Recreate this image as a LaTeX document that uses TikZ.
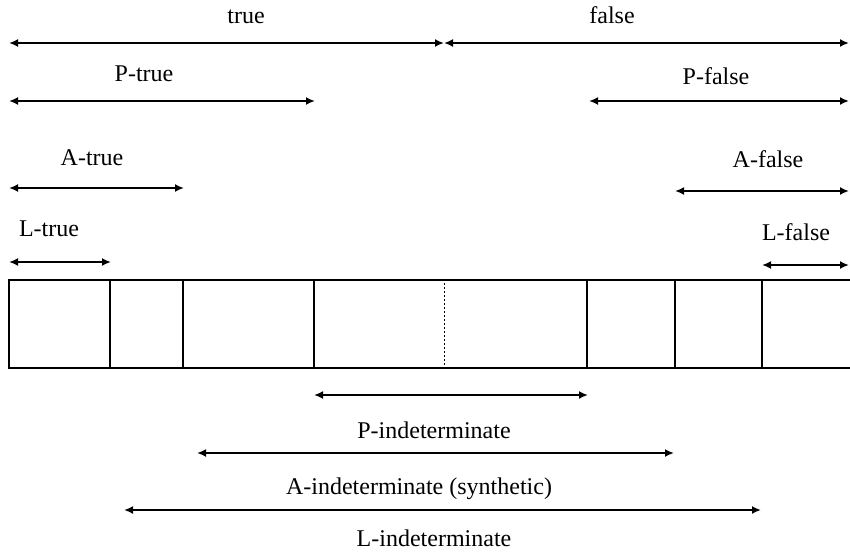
\documentclass[tikz,border=0pt]{standalone}
\usepackage{fontspec}
\setmainfont{Liberation Serif}
\usetikzlibrary{arrows.meta}
\begin{document}
\begin{tikzpicture}[x=1pt,y=-1pt,
  span/.style={{Latex[length=9pt,width=8pt]}-{Latex[length=9pt,width=8pt]}, line width=1.8pt},
  lbl/.style={font=\fontsize{24}{26}\selectfont, inner sep=0pt, anchor=base},
  boxline/.style={line width=1.4pt},
]
\useasboundingbox (0,0) rectangle (850,551);
% band
\coordinate (b0t) at (9,280);   \coordinate (b0b) at (9,368);
\coordinate (bet) at (851,280); \coordinate (beb) at (851,368);
\draw[boxline] (bet) -- (b0t) -- (b0b) -- (beb);
\foreach \n/\x in {1/110,2/183,3/314,5/587,6/675,7/762}{
  \coordinate (v\n t) at (\x,280); \coordinate (v\n b) at (\x,368);
  \draw[line width=1.2pt] (v\n t) -- (v\n b);
}
\coordinate (v4t) at (444,283); \coordinate (v4b) at (444,365);
\draw[line width=1pt, dash pattern=on 2pt off 2pt] (v4t) -- (v4b);

% top arrows
\coordinate (tl) at (9,43); \coordinate (tm) at (444,43); \coordinate (tr) at (849,43);
\draw[span] (tl) -- (tm);
\draw[span] (tm) -- (tr);
\node[lbl] (ltrue) at (246,24) {true};
\node[lbl] (lfalse) at (612,24) {false};

\coordinate (ptl) at (9,101); \coordinate (ptr) at (315,101);
\draw[span] (ptl) -- (ptr);
\node[lbl] (lptrue) at (144,81) {P-true};
\coordinate (pfl) at (589,101); \coordinate (pfr) at (849,101);
\draw[span] (pfl) -- (pfr);
\node[lbl] (lpfalse) at (716,84) {P-false};

\coordinate (atl) at (9,188); \coordinate (atr) at (184,188);
\draw[span] (atl) -- (atr);
\node[lbl] (latrue) at (92,165) {A-true};
\coordinate (afl) at (675,191); \coordinate (afr) at (849,191);
\draw[span] (afl) -- (afr);
\node[lbl] (lafalse) at (768,167) {A-false};

\coordinate (ltl) at (9,262); \coordinate (ltr) at (111,262);
\draw[span] (ltl) -- (ltr);
\node[lbl] (lltrue) at (49,236) {L-true};
\coordinate (lfl) at (762,265); \coordinate (lfr) at (849,265);
\draw[span] (lfl) -- (lfr);
\node[lbl] (llfalse) at (796,240) {L-false};

% bottom arrows
\coordinate (pil) at (314,395); \coordinate (pir) at (588,395);
\draw[span] (pil) -- (pir);
\node[lbl] (lpi) at (434,438) {P-indeterminate};
\coordinate (ail) at (197,453); \coordinate (air) at (674,453);
\draw[span] (ail) -- (air);
\node[lbl] (lai) at (419,494) {A-indeterminate (synthetic)};
\coordinate (lil) at (124,510); \coordinate (lir) at (761,510);
\draw[span] (lil) -- (lir);
\node[lbl] (lli) at (434,546) {L-indeterminate};
\end{tikzpicture}
\end{document}
